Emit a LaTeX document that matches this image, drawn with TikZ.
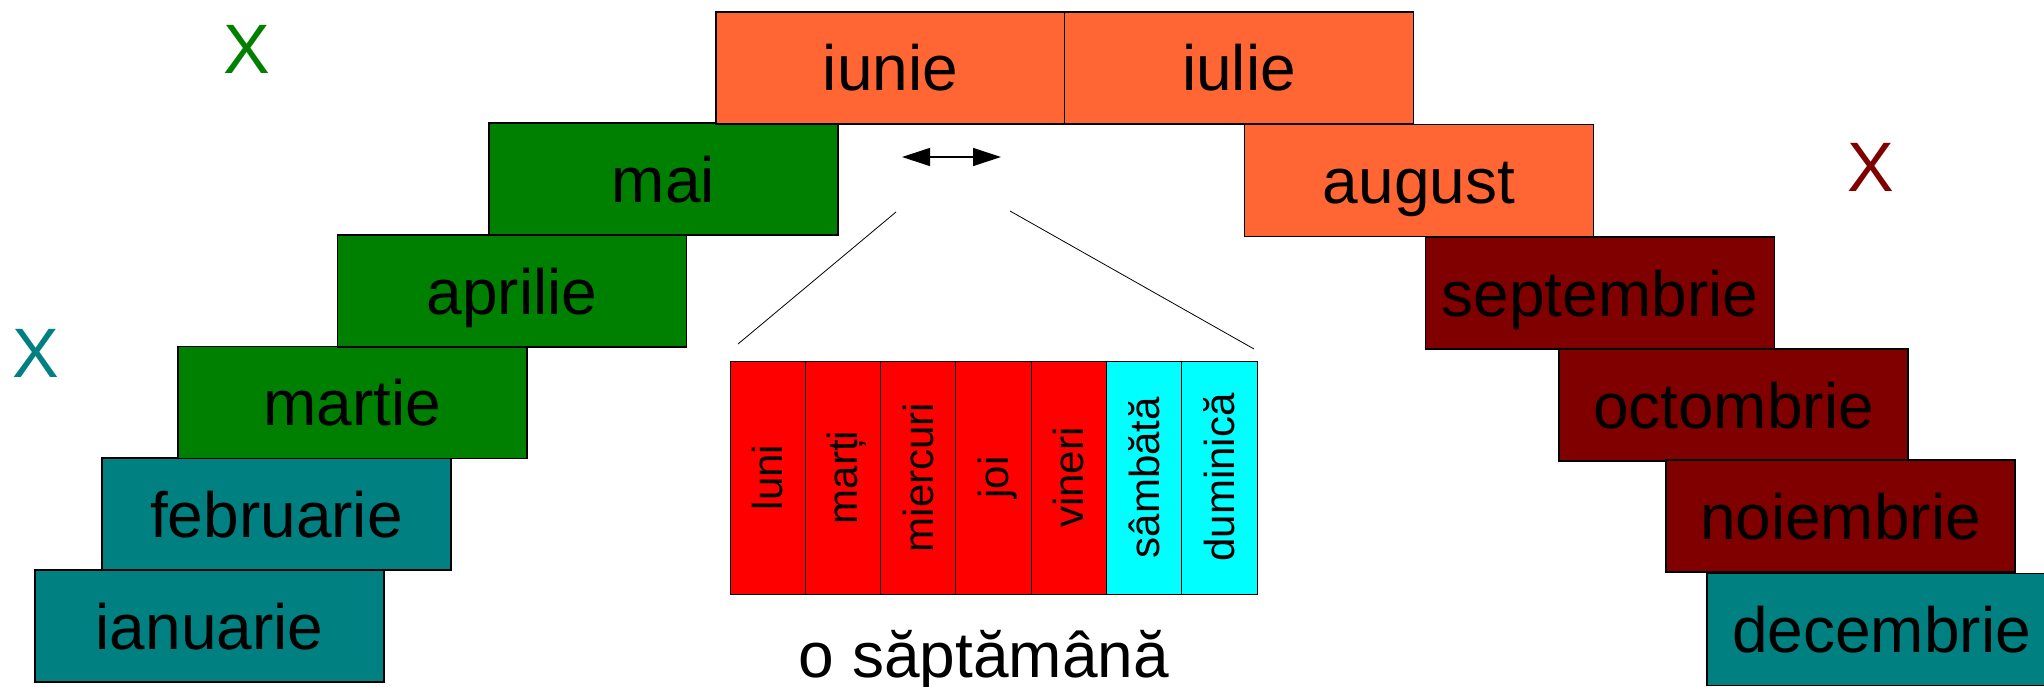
\documentclass[tikz,border=0pt]{standalone}
\usepackage{fontspec}
\setmainfont{Liberation Sans}
\usetikzlibrary{arrows.meta}
\definecolor{cgreen}{HTML}{008000}
\definecolor{cteal}{HTML}{008080}
\definecolor{corange}{HTML}{FF6633}
\definecolor{cdark}{HTML}{800000}
\definecolor{cred}{HTML}{FF0000}
\definecolor{ccyan}{HTML}{00FFFF}
\begin{document}
\begin{tikzpicture}[x=1pt,y=-1pt,
  month/.style={draw=black, line width=1.2pt, inner sep=0pt, minimum width=349pt, minimum height=112pt,
    font=\fontsize{64}{72}\selectfont, text height=46pt, text depth=0pt},
  daycell/.style={draw=black, line width=1pt, inner sep=0pt, minimum width=75.3pt, minimum height=233pt},
  daytext/.style={rotate=90, inner sep=0pt, font=\fontsize{42}{48}\selectfont, text height=30pt, text depth=0pt},
  xletter/.style={inner sep=0pt, font=\fontsize{70}{80}\selectfont},
  zoomline/.style={draw=black, line width=0.8pt},
  dblarrow/.style={draw=black, line width=1.2pt, {Triangle[length=28pt,width=18pt]}-{Triangle[length=28pt,width=18pt]}}
]
\useasboundingbox (0,0) rectangle (2044,687);
\clip (0,0) rectangle (2044,687);

% months
\node[month, fill=cteal]   (ian) at (209.5,626) {ianuarie};
\node[month, fill=cteal]   (feb) at (276.5,514) {februarie};
\node[month, fill=cgreen]  (mar) at (352.5,402.5) {martie};
\node[month, fill=cgreen]  (apr) at (512,291) {aprilie};
\node[month, fill=cgreen]  (mai) at (663.5,179) {mai};
\node[month, fill=corange] (iun) at (890.5,68) {iunie};
\node[month, fill=corange] (iul) at (1239,68) {iulie};
\node[month, fill=corange] (aug) at (1419,180.5) {august};
\node[month, fill=cdark]   (sep) at (1600,293) {septembrie};
\node[month, fill=cdark]   (oct) at (1733.5,405) {octombrie};
\node[month, fill=cdark]   (noi) at (1840.5,516) {noiembrie};
\node[month, fill=cteal]   (dec) at (1881.5,629.5) {decembrie};

% season marks
\node[xletter, text=cgreen] (xg) at (246.5,49) {X};
\node[xletter, text=cteal]  (xt) at (36,353) {X};
\node[xletter, text=cdark]  (xr) at (1870.5,167) {X};

% arrow
\coordinate (al) at (902,157);
\coordinate (ar) at (1001,157);
\draw[dblarrow] (al) -- (ar);

% week
\foreach \i/\d/\c in {0/luni/cred,1/marți/cred,2/miercuri/cred,3/joi/cred,4/vineri/cred,5/sâmbătă/ccyan,6/duminică/ccyan}{
  \node[daycell, fill=\c] (day\i) at ({730+75.3*\i+37.65},477.5) {};
  \node[daytext] (dt\i) at (day\i) {\d};
}
\node[inner sep=0pt, anchor=base, font=\fontsize{64}{72}\selectfont] (week) at (984,677) {o săptămână};

% zoom lines
\coordinate (zl1) at (896,212);
\coordinate (zl2) at (738,344);
\coordinate (zr1) at (1010,211);
\coordinate (zr2) at (1254,349);
\draw[zoomline] (zl1) -- (zl2);
\draw[zoomline] (zr1) -- (zr2);
\end{tikzpicture}
\end{document}
